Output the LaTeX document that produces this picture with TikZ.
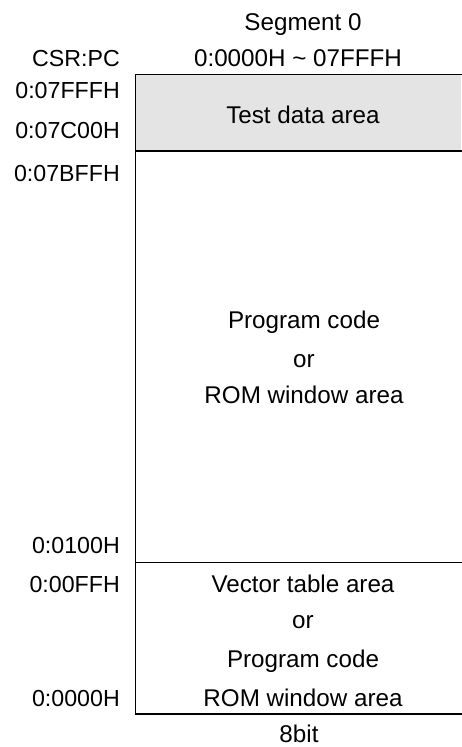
\documentclass[tikz,border=0pt]{standalone}
\usepackage{fontspec}
\setmainfont{Liberation Sans}
\definecolor{areagray}{RGB}{228,228,228}
\begin{document}
\begin{tikzpicture}[x=1pt,y=-1pt,
  lbl/.style={font=\fontsize{24.2}{29}\selectfont, inner sep=0pt, anchor=base},
  addr/.style={font=\fontsize{23.2}{28}\selectfont, inner sep=0pt, anchor=base east},
  frame/.style={line width=1.8pt, line cap=rect}]
  \useasboundingbox (0,0) rectangle (461,747);

  % shaded test data block
  \fill[areagray] (135,74.5) rectangle (461,151);

  % memory map outline (open on the right)
  \draw[frame] (461,74.5) -- (135.5,74.5) -- (135.5,714) -- (461,714);
  \draw[frame] (135.5,151) -- (461,151);
  \draw[frame] (135.5,562.5) -- (461,562.5);

  % headings
  \node[lbl] (seg) at (303,30) {Segment 0};
  \node[lbl] (range) at (298,66) {0:0000H \textasciitilde\ 07FFFH};
  \node[addr] (csr) at (120,66) {CSR:PC};

  % addresses
  \node[addr] (a1) at (120,98) {0:07FFFH};
  \node[addr] (a2) at (120,138) {0:07C00H};
  \node[addr] (a3) at (120,181) {0:07BFFH};
  \node[addr] (a4) at (120,553) {0:0100H};
  \node[addr] (a5) at (120,592) {0:00FFH};
  \node[addr] (a6) at (120,706) {0:0000H};

  % area contents
  \node[lbl] (test) at (303,123) {Test data area};
  \node[lbl] (pc1) at (304,328) {Program code};
  \node[lbl] (or1) at (304,367) {or};
  \node[lbl] (rom1) at (304,403) {ROM window area};
  \node[lbl] (vec) at (303,592) {Vector table area};
  \node[lbl] (or2) at (303,628) {or};
  \node[lbl] (pc2) at (303,667) {Program code};
  \node[lbl] (rom2) at (303,706) {ROM window area};

  \node[lbl] (width) at (299,742) {8bit};
\end{tikzpicture}
\end{document}
